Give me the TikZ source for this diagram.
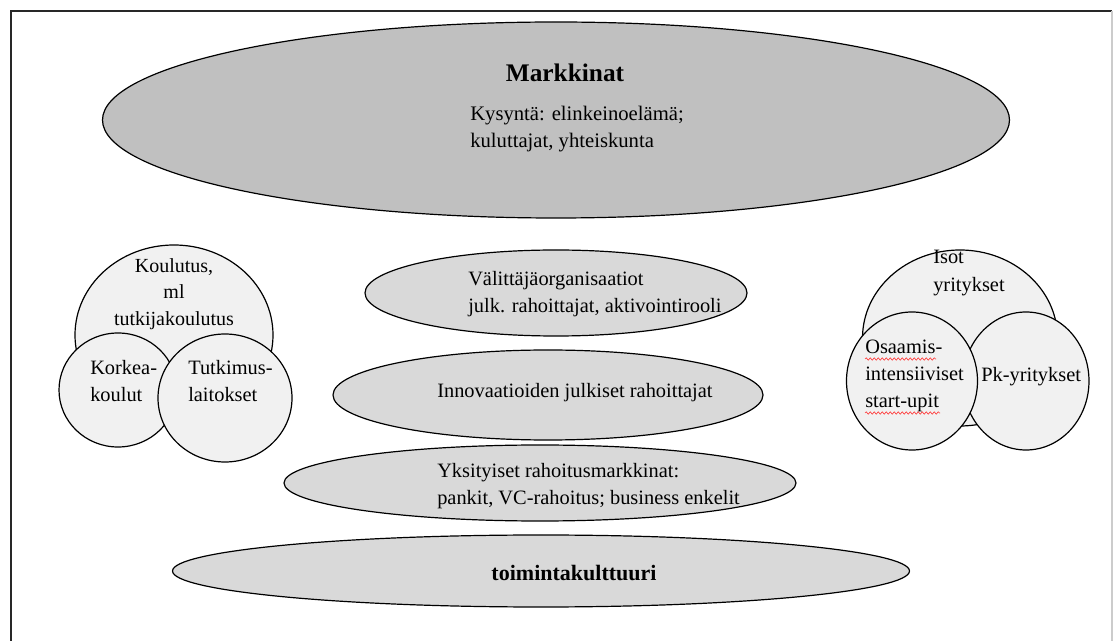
\documentclass[tikz,border=0pt]{standalone}
\usepackage{fontspec}
\setmainfont{Liberation Serif}
\usetikzlibrary{shapes.geometric,decorations.pathmorphing}
\definecolor{bigfill}{RGB}{192,192,192}
\definecolor{midfill}{RGB}{217,217,217}
\definecolor{circfill}{RGB}{241,241,241}
\definecolor{frameline}{RGB}{40,40,40}
\newcommand{\pxu}{0.75pt}
\begin{document}
\begin{tikzpicture}[x=0.75pt,y=-0.75pt,
  blob/.style={ellipse, draw=black, line width=0.9pt, inner sep=0pt},
  bigblob/.style={blob, fill=bigfill},
  midblob/.style={blob, fill=midfill},
  circblob/.style={blob, fill=circfill},
  txt/.style={inner sep=0pt, align=left, font=\fontsize{15.3}{20.3}\selectfont},
  ctxt/.style={inner sep=0pt, align=center, font=\fontsize{15}{20}\selectfont},
  boldtxt/.style={inner sep=0pt, font=\bfseries\fontsize{16.5}{20}\selectfont},
  spell/.style={draw=red!75, line width=0.5pt, decorate, decoration={snake, amplitude=0.9pt, segment length=3pt}}]
\useasboundingbox (0,0) rectangle (1115,641);
\fill[white] (0,0) rectangle (1115,641);
% frame
\draw[frameline, line width=1.2pt] (11,660) -- (11,11) -- (1112,11);
\draw[black!20, line width=0.8pt] (1112,11) -- (1112,660);

% top ellipse
\node[bigblob, minimum width=907*\pxu, minimum height=196*\pxu] (markets) at (556,120) {};
\node[inner sep=0pt, font=\bfseries\fontsize{19}{22}\selectfont] (marketsT) at (565,73) {Markkinat};
\node[txt, anchor=west, font=\fontsize{15.5}{20.5}\selectfont] (demandT) at (470,129) {Kysyntä: elinkeinoelämä;\\kuluttajat, yhteiskunta};

% left group
\node[circblob, minimum width=198*\pxu, minimum height=180*\pxu] (edu) at (174,335) {};
\node[circblob, minimum width=118*\pxu, minimum height=114*\pxu] (hei) at (118,390) {};
\node[circblob, minimum width=134*\pxu, minimum height=128*\pxu] (rti) at (225,398) {};
\node[ctxt] (eduT) at (174,294) {Koulutus,\\ml\\tutkijakoulutus};
\node[txt, anchor=west] (heiT) at (90,381) {Korkea-\\koulut};
\node[txt, anchor=west] (rtiT) at (188,381) {Tutkimus-\\laitokset};

% right group
\node[circblob, minimum width=195*\pxu, minimum height=176*\pxu] (big) at (960,338) {};
\node[circblob, minimum width=126*\pxu, minimum height=138*\pxu] (sme) at (1026,381) {};
\node[circblob, minimum width=131*\pxu, minimum height=138*\pxu] (start) at (912,381) {};
\node[txt, anchor=west] (bigT) at (933,273) {Isot\\yritykset};
\node[txt, anchor=west] (startT) at (865,376) {Osaamis-\\intensiiviset\\start-upit};
\node[txt, anchor=west] (smeT) at (981,377) {Pk-yritykset};
\coordinate (w1a) at (865,359);
\coordinate (w1b) at (936,359);
\coordinate (w2a) at (865,413);
\coordinate (w2b) at (940,413);
\draw[spell] (w1a) -- (w1b);
\draw[spell] (w2a) -- (w2b);

% middle ellipses
\node[midblob, minimum width=382*\pxu, minimum height=86*\pxu] (inter) at (556,293) {};
\node[txt, anchor=west] (interT) at (468,294) {Välittäjäorganisaatiot\\julk. rahoittajat, aktivointirooli};
\node[midblob, minimum width=430*\pxu, minimum height=90*\pxu] (pubfin) at (548,395) {};
\node[txt, anchor=west] (pubfinT) at (437,393) {Innovaatioiden julkiset rahoittajat};
\node[midblob, minimum width=512*\pxu, minimum height=76*\pxu] (privfin) at (540,483) {};
\node[txt, anchor=west] (privfinT) at (437,486) {Yksityiset rahoitusmarkkinat:\\pankit, VC-rahoitus; business enkelit};
\node[midblob, minimum width=737*\pxu, minimum height=72*\pxu] (culture) at (541,571) {};
\node[boldtxt] (cultureT) at (574,573) {toimintakulttuuri};
\end{tikzpicture}
\end{document}
